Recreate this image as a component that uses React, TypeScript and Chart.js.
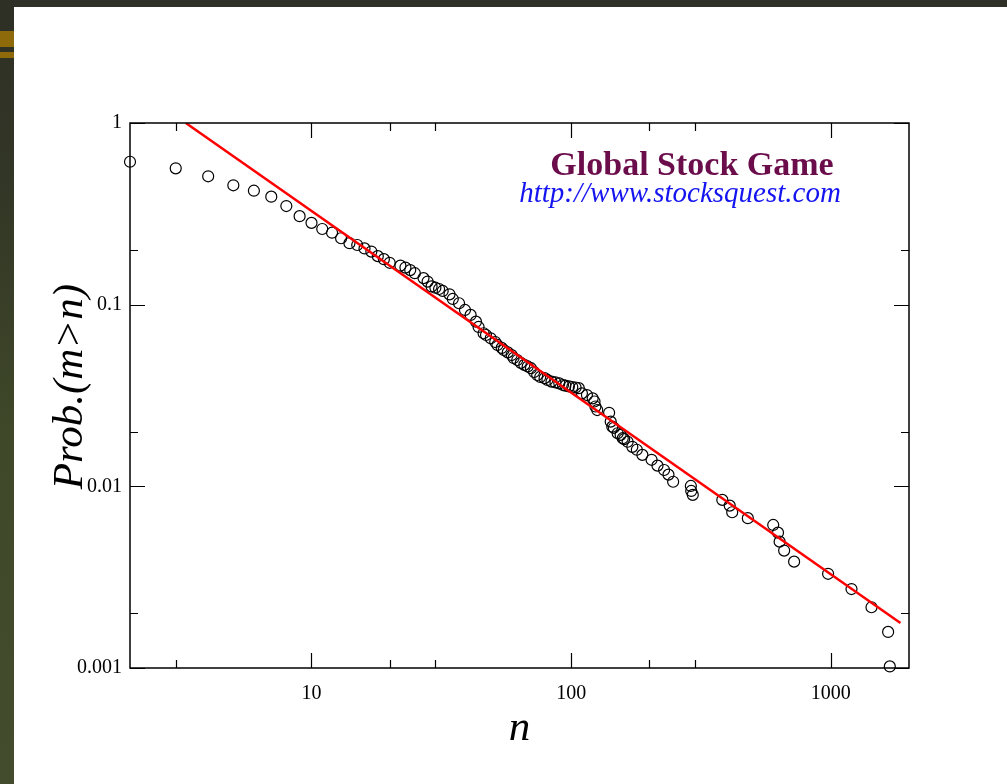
import React, { useEffect, useRef } from "react";
import { Chart, registerables } from "chart.js";

Chart.register(...registerables);
Chart.defaults.font.family = "'Liberation Serif', 'Times New Roman', serif";
Chart.defaults.color = "#000";

// ---- data ----
const dataN = [
  2, 3, 4, 5, 6, 7, 8, 9, 10, 11, 12, 13, 14, 15, 16, 17, 18, 19, 20, 22,
  23, 24, 25, 27, 28, 29, 30, 31, 32, 34, 35, 37, 39, 41, 43, 44, 46, 47, 49, 51,
  52, 54, 55, 57, 59, 60, 62, 64, 66, 68, 70, 72, 74, 76, 79, 81, 84, 87, 90, 93,
  95, 98, 101, 104, 107, 110, 115, 121, 123, 124, 126, 140, 142, 144, 146, 151, 155, 158, 160, 165,
  172, 179, 188, 204, 215, 228, 237, 247, 289, 290, 294, 382, 408, 417, 479, 600, 626, 635, 661, 722,
  976, 1201, 1434, 1662, 1687,
];
const dataP = [
  0.612, 0.563, 0.509, 0.454, 0.424, 0.393, 0.349, 0.307, 0.282, 0.261, 0.249, 0.232, 0.218, 0.213, 0.204, 0.196, 0.185, 0.178, 0.17, 0.164,
  0.16, 0.155, 0.149, 0.14, 0.134, 0.126, 0.124, 0.122, 0.119, 0.114, 0.1075, 0.1018, 0.0935, 0.0878, 0.0806, 0.0754, 0.0696, 0.0681, 0.0653, 0.0623,
  0.06, 0.0578, 0.0563, 0.0546, 0.0528, 0.0509, 0.0496, 0.0478, 0.0466, 0.0457, 0.0447, 0.0426, 0.041, 0.04, 0.0394, 0.0385, 0.0377, 0.0373, 0.0369, 0.0361,
  0.0358, 0.0355, 0.0352, 0.035, 0.0347, 0.0325, 0.0318, 0.0305, 0.0293, 0.0275, 0.0263, 0.0254, 0.0227, 0.0213, 0.021, 0.0196, 0.0192, 0.0184, 0.0182, 0.0176,
  0.0165, 0.0159, 0.0149, 0.014, 0.013, 0.0123, 0.0116, 0.0106, 0.01005, 0.00943, 0.00897, 0.00842, 0.00783, 0.0072, 0.00668, 0.00613, 0.00556, 0.00496, 0.00443, 0.00385,
  0.0033, 0.00272, 0.00216, 0.00158, 0.00102,
];
const fitN = [3.28, 1854];
const fitP = [1, 0.00177];

const xTickValues = [3, 10, 20, 30, 100, 200, 300, 1000];
const yTickValues = [0.001, 0.002, 0.01, 0.02, 0.1, 0.2, 1];
const xTickLabels: Record<string, string> = { "10": "10", "100": "100", "1000": "1000" };
const yTickLabels: Record<string, string> = { "0.001": "0.001", "0.01": "0.01", "0.1": "0.1", "1": "1" };

const headline = "Global Stock Game";
const urlText = "http://www.stocksquest.com";
const xTitle = "n";
const yTitle = "Prob.(m>n)";

const framePlugin = {
  id: "frameAndTicks",
  afterDatasetsDraw(chart: any) {
    const { ctx, chartArea: a, scales } = chart;
    const x = scales.x;
    const y = scales.y;
    ctx.save();
    ctx.strokeStyle = "#000";
    ctx.lineWidth = 1.5;
    ctx.strokeRect(a.left, a.top, a.right - a.left, a.bottom - a.top);
    ctx.lineWidth = 1.2;
    ctx.beginPath();
    for (const v of xTickValues) {
      const px = Math.round(x.getPixelForValue(v)) + 0.5;
      const len = xTickLabels[String(v)] ? 15 : 8;
      ctx.moveTo(px, a.bottom);
      ctx.lineTo(px, a.bottom - len);
      ctx.moveTo(px, a.top);
      ctx.lineTo(px, a.top + len);
    }
    for (const v of yTickValues) {
      const py = Math.round(y.getPixelForValue(v)) + 0.5;
      const len = yTickLabels[String(v)] ? 15 : 8;
      ctx.moveTo(a.left, py);
      ctx.lineTo(a.left + len, py);
      ctx.moveTo(a.right, py);
      ctx.lineTo(a.right - len, py);
    }
    ctx.stroke();

    // y axis title, rotated
    ctx.save();
    ctx.translate(a.left - 48, (a.top + a.bottom) / 2 - 9);
    ctx.rotate(-Math.PI / 2);
    ctx.textAlign = "center";
    ctx.textBaseline = "alphabetic";
    ctx.fillStyle = "#000";
    ctx.font = "italic 43px 'Liberation Serif', serif";
    ctx.fillText(yTitle, 0, 0);
    ctx.restore();

    ctx.textAlign = "center";
    ctx.textBaseline = "alphabetic";
    ctx.fillStyle = "#6b0d4b";
    ctx.font = "bold 34px 'Liberation Serif', serif";
    ctx.fillText(headline, a.left + 562, a.top + 52);
    ctx.fillStyle = "#1414f0";
    ctx.font = "italic 29px 'Liberation Serif', serif";
    ctx.fillText(urlText, a.left + 550, a.top + 79);
    ctx.restore();
  },
};

export default function App() {
  const canvasRef = useRef<HTMLCanvasElement | null>(null);

  useEffect(() => {
    const canvas = canvasRef.current;
    if (!canvas) return;
    const points = dataN.map((n, i) => ({ x: n, y: dataP[i] }));
    const fit = fitN.map((n, i) => ({ x: n, y: fitP[i] }));
    const chart = new Chart(canvas, {
      type: "scatter",
      data: {
        datasets: [
          {
            label: "fit",
            data: fit,
            showLine: true,
            borderColor: "#ff0000",
            borderWidth: 2.5,
            pointRadius: 0,
            fill: false,
          },
          {
            label: "data",
            data: points,
            clip: false,
            pointStyle: "circle",
            pointRadius: 5.5,
            pointBorderWidth: 1.2,
            borderColor: "#000",
            backgroundColor: "rgba(0,0,0,0)",
            pointBackgroundColor: "rgba(0,0,0,0)",
          },
        ],
      },
      options: {
        responsive: false,
        animation: false,
        events: [],
        layout: { padding: { left: 0, right: 98, top: 123, bottom: 0 } },
        plugins: { legend: { display: false }, tooltip: { enabled: false } },
        scales: {
          x: {
            type: "logarithmic",
            position: "bottom",
            min: 2,
            max: 2000,
            afterBuildTicks: (s: any) => {
              s.ticks = xTickValues.map((v) => ({ value: v }));
            },
            afterFit: (s: any) => {
              s.height = 116;
            },
            grid: { display: false, drawTicks: false },
            border: { display: false },
            ticks: {
              autoSkip: false,
              maxRotation: 0,
              padding: 14,
              font: { size: 20 },
              color: "#000",
              callback: (v: any) => xTickLabels[String(v)] ?? "",
            },
            title: {
              display: true,
              text: xTitle,
              color: "#000",
              font: { size: 43, style: "italic" },
              padding: { top: 0, bottom: 29 },
            },
          },
          y: {
            type: "logarithmic",
            position: "left",
            min: 0.001,
            max: 1,
            afterBuildTicks: (s: any) => {
              s.ticks = yTickValues.map((v) => ({ value: v }));
            },
            afterFit: (s: any) => {
              s.width = 130;
            },
            grid: { display: false, drawTicks: false },
            border: { display: false },
            ticks: {
              autoSkip: false,
              padding: 8,
              font: { size: 20 },
              color: "#000",
              callback: (v: any) => yTickLabels[String(v)] ?? "",
            },
            title: { display: false },
          },
        },
      },
      plugins: [framePlugin],
    });
    return () => chart.destroy();
  }, []);

  return (
    <div style={{ position: "fixed", left: 0, top: 0, width: 1007, height: 784, background: "#2f3027", overflow: "hidden" }}>
      <div
        style={{
          position: "absolute",
          left: 0,
          top: 0,
          width: 14,
          height: 784,
          background: "linear-gradient(to bottom, #2e2f25 0%, #333726 25%, #3f4829 55%, #434c2d 100%)",
        }}
      />
      <div style={{ position: "absolute", left: 0, top: 31, width: 14, height: 16, background: "#8e6a0b" }} />
      <div style={{ position: "absolute", left: 0, top: 52, width: 14, height: 6, background: "#8e6a0b" }} />
      <div style={{ position: "absolute", left: 14, top: 7, right: 0, bottom: 0, background: "#ffffff" }} />
      <canvas ref={canvasRef} width={1007} height={784} style={{ position: "absolute", left: 0, top: 0 }} />
    </div>
  );
}
